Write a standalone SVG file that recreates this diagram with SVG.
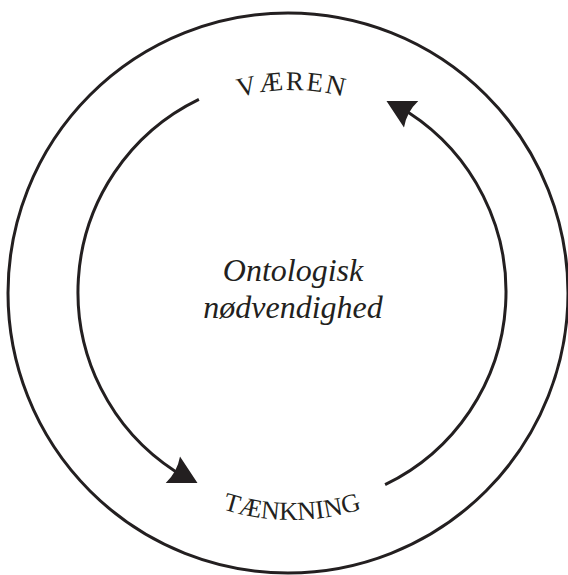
<svg xmlns="http://www.w3.org/2000/svg" xmlns:xlink="http://www.w3.org/1999/xlink" width="568" height="575" viewBox="0 0 568 575">
<style>
.ring{fill:none;stroke:#231f20;stroke-width:3}
.arc{fill:none;stroke:#231f20;stroke-width:3}
.head{fill:#231f20}
.caps{font-family:"Liberation Serif","DejaVu Serif",serif;fill:#231f20}
.center{font-family:"Liberation Serif","DejaVu Serif",serif;font-size:32px;font-style:italic;fill:#231f20;text-anchor:middle}
</style>
<defs>
<path id="arrowhead" d="M0 0 L-28 -15 Q-23 0 -28 15 Z"/>
<path id="topPath" d="M149.2 149.2 A202 202 0 0 1 434.8 149.2"/>
<path id="bottomPath" d="M130.8 453.2 A228 228 0 0 0 453.2 453.2"/>
</defs>
<rect width="568" height="575" fill="#ffffff"/>
<g id="outer-circle">
<circle class="ring" cx="288" cy="293" r="280"/>
</g>
<g id="connectors">
<path class="arc" d="M198.9 99.3 A214 214 0 0 0 175.45 471.5"/>
<use href="#arrowhead" xlink:href="#arrowhead" class="head" transform="translate(197.5 483) rotate(28.4)"/>
<path class="arc" d="M385.1 484.7 A214 214 0 0 0 408.5 112.5"/>
<use href="#arrowhead" xlink:href="#arrowhead" class="head" transform="translate(386.5 101) rotate(208.4)"/>
</g>
<g id="node-vaeren">
<text class="caps" font-size="27" letter-spacing="2"><textPath href="#topPath" xlink:href="#topPath" startOffset="50%" text-anchor="middle">VÆREN</textPath></text>
</g>
<g id="node-taenkning">
<text class="caps" font-size="26"><textPath href="#bottomPath" xlink:href="#bottomPath" startOffset="50%" text-anchor="middle">TÆNKNING</textPath></text>
</g>
<g id="node-center">
<text class="center" x="293" y="281">Ontologisk</text>
<text class="center" x="293" y="318">nødvendighed</text>
</g>
</svg>
